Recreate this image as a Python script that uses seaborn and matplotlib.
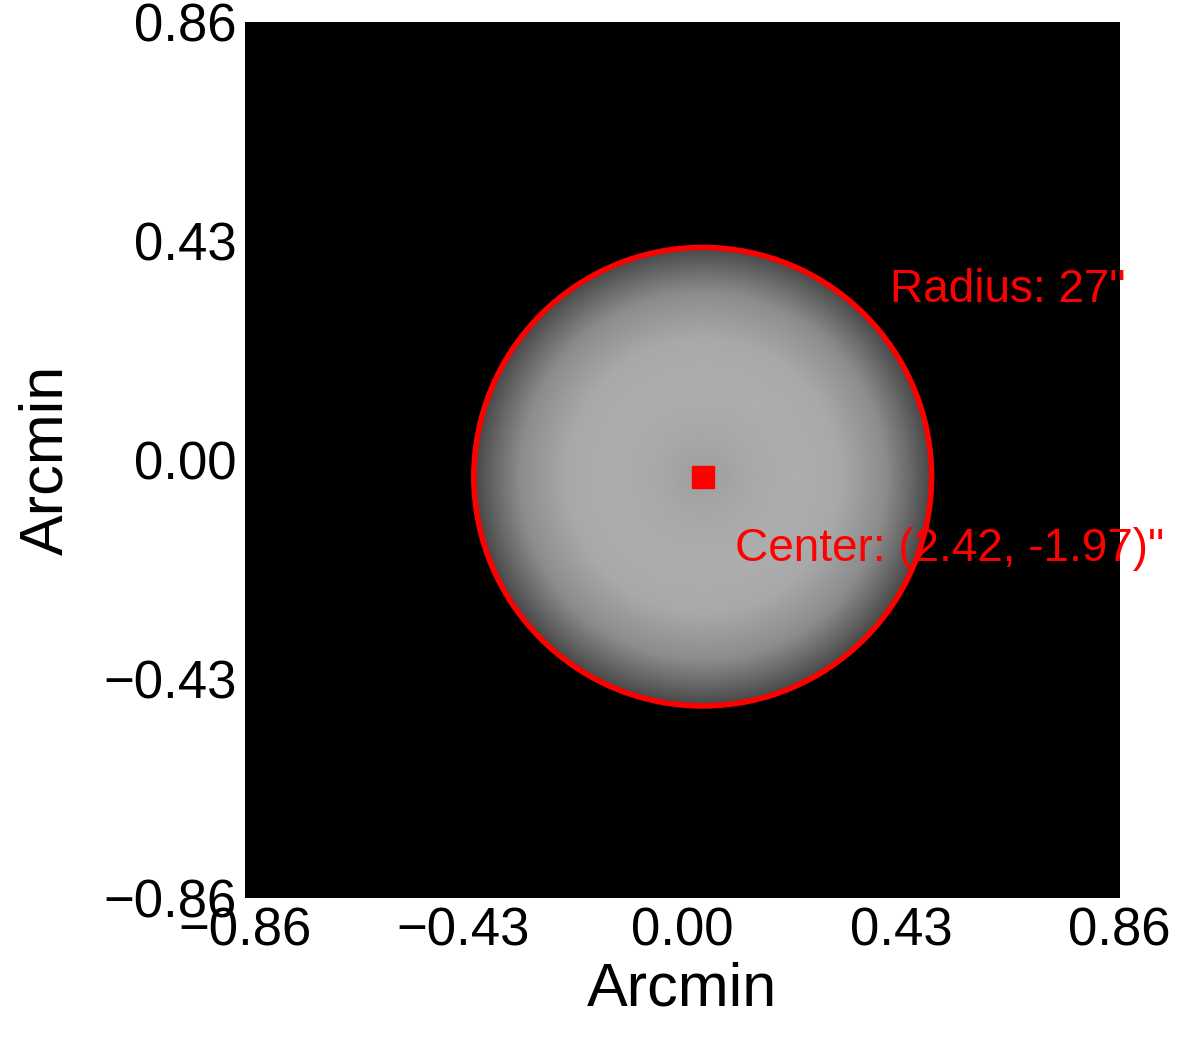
import numpy as np
import matplotlib
matplotlib.use("Agg")
import matplotlib.pyplot as plt
import seaborn as sns
from matplotlib.patches import Circle

sns.set_style("white")
plt.rcParams['font.family'] = ['Liberation Sans', 'DejaVu Sans']

# data
center_arcsec = (2.42, -1.97)
radius_arcsec = 27.0
ticks = [-0.86, -0.43, 0.00, 0.43, 0.86]
tick_labels = ["\u22120.86", "\u22120.43", "0.00", "0.43", "0.86"]
profile_r = [0.0, 0.2, 0.4, 0.6, 0.8, 0.9, 1.0]      # fraction of radius
profile_v = [0.62, 0.66, 0.68, 0.66, 0.55, 0.42, 0.28]  # brightness

cx, cy = center_arcsec[0] / 60, center_arcsec[1] / 60
R = radius_arcsec / 60

n = 600
xs = np.linspace(-0.86, 0.86, n)
X, Y = np.meshgrid(xs, xs)
rr = np.hypot(X - cx, Y - cy) / R
img = np.interp(rr, profile_r, profile_v, right=0.0)
img[rr > 1] = 0.0

fig = plt.figure(figsize=(12, 10.43), dpi=100)
ax = fig.add_axes([0.204, 0.139, 0.729, 0.840])
ax.imshow(img, cmap="gray", vmin=0, vmax=1, origin="lower",
          extent=[-0.86, 0.86, -0.86, 0.86], aspect="auto", interpolation="bilinear")
ax.add_patch(Circle((cx, cy), R, fill=False, ec="red", lw=4))
ax.plot([cx], [cy], marker="s", color="red", ms=16)
ax.text(0.408, 0.333, 'Radius: 27"', color="red", fontsize=33, va="center")
ax.text(0.103, -0.174, 'Center: (2.42, -1.97)"', color="red", fontsize=33, va="center")
ax.set_xlim(-0.86, 0.86)
ax.set_ylim(-0.86, 0.86)
ax.set_xticks(ticks, tick_labels)
ax.set_yticks(ticks, tick_labels)
ax.tick_params(labelsize=38, length=0, pad=6, labelcolor="black")
ax.set_xlabel("Arcmin", fontsize=44, color="black", labelpad=4)
ax.set_ylabel("Arcmin", fontsize=44, color="black", labelpad=20)
for s in ax.spines.values():
    s.set_visible(False)
fig.savefig("out.png", dpi=100)
